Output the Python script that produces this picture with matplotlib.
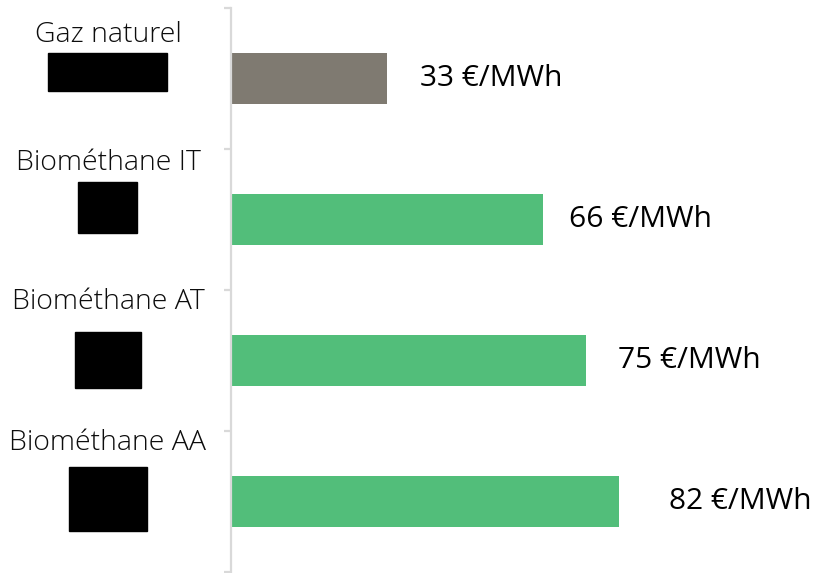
import matplotlib
matplotlib.use('Agg')
import matplotlib.pyplot as plt
from matplotlib.patches import Rectangle
from matplotlib.transforms import blended_transform_factory

categories = ['Gaz naturel', 'Biométhane IT', 'Biométhane AT', 'Biométhane AA']
prices = [33, 66, 75, 82]
price_labels = ['33 €/MWh', '66 €/MWh', '75 €/MWh', '82 €/MWh']
bar_colors = ['#7f7a71', '#52be7a', '#52be7a', '#52be7a']

W, H = 814, 573
fig = plt.figure(figsize=(W / 100, H / 100), dpi=100)
ax = fig.add_axes([231 / W, 1 - 572 / H, (W - 231) / W, 564 / H])

y = list(range(len(categories)))
ax.barh(y, prices, height=0.36, color=bar_colors)
ax.set_xlim(0, 583 / 4.73)
ax.set_ylim(3.5, -0.5)

# value labels, a little past the bar ends
label_gap = [7, 5.4, 6.8, 10.6]
for i, (v, txt) in enumerate(zip(prices, price_labels)):
    ax.text(v + label_gap[i], i, txt, va='center', ha='left',
            fontsize=21.5, family='Open Sans', color='black')

for s in ['top', 'right', 'bottom']:
    ax.spines[s].set_visible(False)
ax.spines['left'].set_color('#d9d9d9')
ax.spines['left'].set_linewidth(1.6)
ax.set_xticks([])
ax.set_yticks([-0.5, 0.5, 1.5, 2.5, 3.5])
ax.set_yticklabels([])
ax.tick_params(axis='y', length=5, width=1.6, color='#d9d9d9', direction='out')

# category names on the left, with a black block under each
tr = blended_transform_factory(fig.transFigure, ax.transData)
name_shift = [-0.31, -0.40, -0.415, -0.415]
for i, name in enumerate(categories):
    ax.text(108 / W, i + name_shift[i], name, transform=tr, ha='center', va='center',
            fontsize=20.5, family='Open Sans', fontweight='light', color='#0d0d0d')

blocks = [(48, 53, 119, 38), (78, 182, 59, 51), (75, 332, 66, 56), (69, 467, 78, 64)]
for x0, y0, w, h in blocks:
    fig.patches.append(Rectangle((x0 / W, 1 - (y0 + h) / H), w / W, h / H,
                                 transform=fig.transFigure, color='black'))

fig.savefig('out.png', dpi=100)
